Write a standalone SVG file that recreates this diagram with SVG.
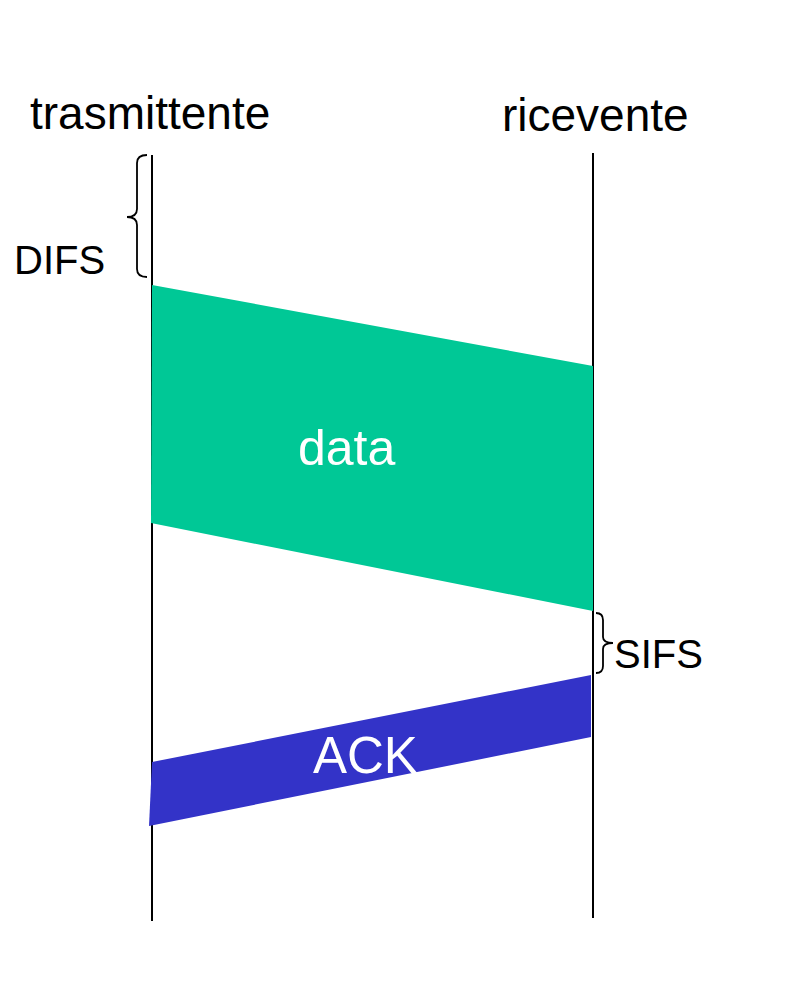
<svg xmlns="http://www.w3.org/2000/svg" width="794" height="998" viewBox="0 0 794 998">
<style>
.lbl{font-family:"Liberation Sans",Arial,sans-serif;fill:#000}
.w{font-family:"Liberation Sans",Arial,sans-serif;fill:#fff}
.ln{stroke:#000;stroke-width:2;fill:none}
.br{stroke:#000;stroke-width:1.8;fill:none}
</style>
<rect width="794" height="998" fill="#fff"/>
<g id="connectors">
<line class="ln" x1="152" y1="155" x2="152" y2="921"/>
<line class="ln" x1="593" y1="153" x2="593" y2="918"/>
</g>
<g id="sender"><text class="lbl" x="30" y="129" font-size="46">trasmittente</text></g>
<g id="receiver"><text class="lbl" x="502" y="131" font-size="46">ricevente</text></g>
<g id="difs">
<path class="br" d="M147,155 Q137,155 137,163 L137,209 Q137,217 127,217 Q137,217 137,225 L137,269 Q137,277 147,277"/>
<text class="lbl" x="14" y="274" font-size="40">DIFS</text>
</g>
<g id="data">
<polygon points="152,285 593,366 593,611 151,523" fill="#00c896"/>
<text class="w" x="298" y="465" font-size="50">data</text>
</g>
<g id="sifs">
<path class="br" d="M596,613 Q603,613 603,620 L603,637 Q603,643 613,643 Q603,643 603,649 L603,666 Q603,673 596,673"/>
<text class="lbl" x="614" y="668" font-size="40">SIFS</text>
</g>
<g id="ack">
<polygon points="152,762 591,675 591,737 149,826" fill="#3333c8"/>
<text class="w" x="313" y="773" font-size="51">ACK</text>
</g>
</svg>
